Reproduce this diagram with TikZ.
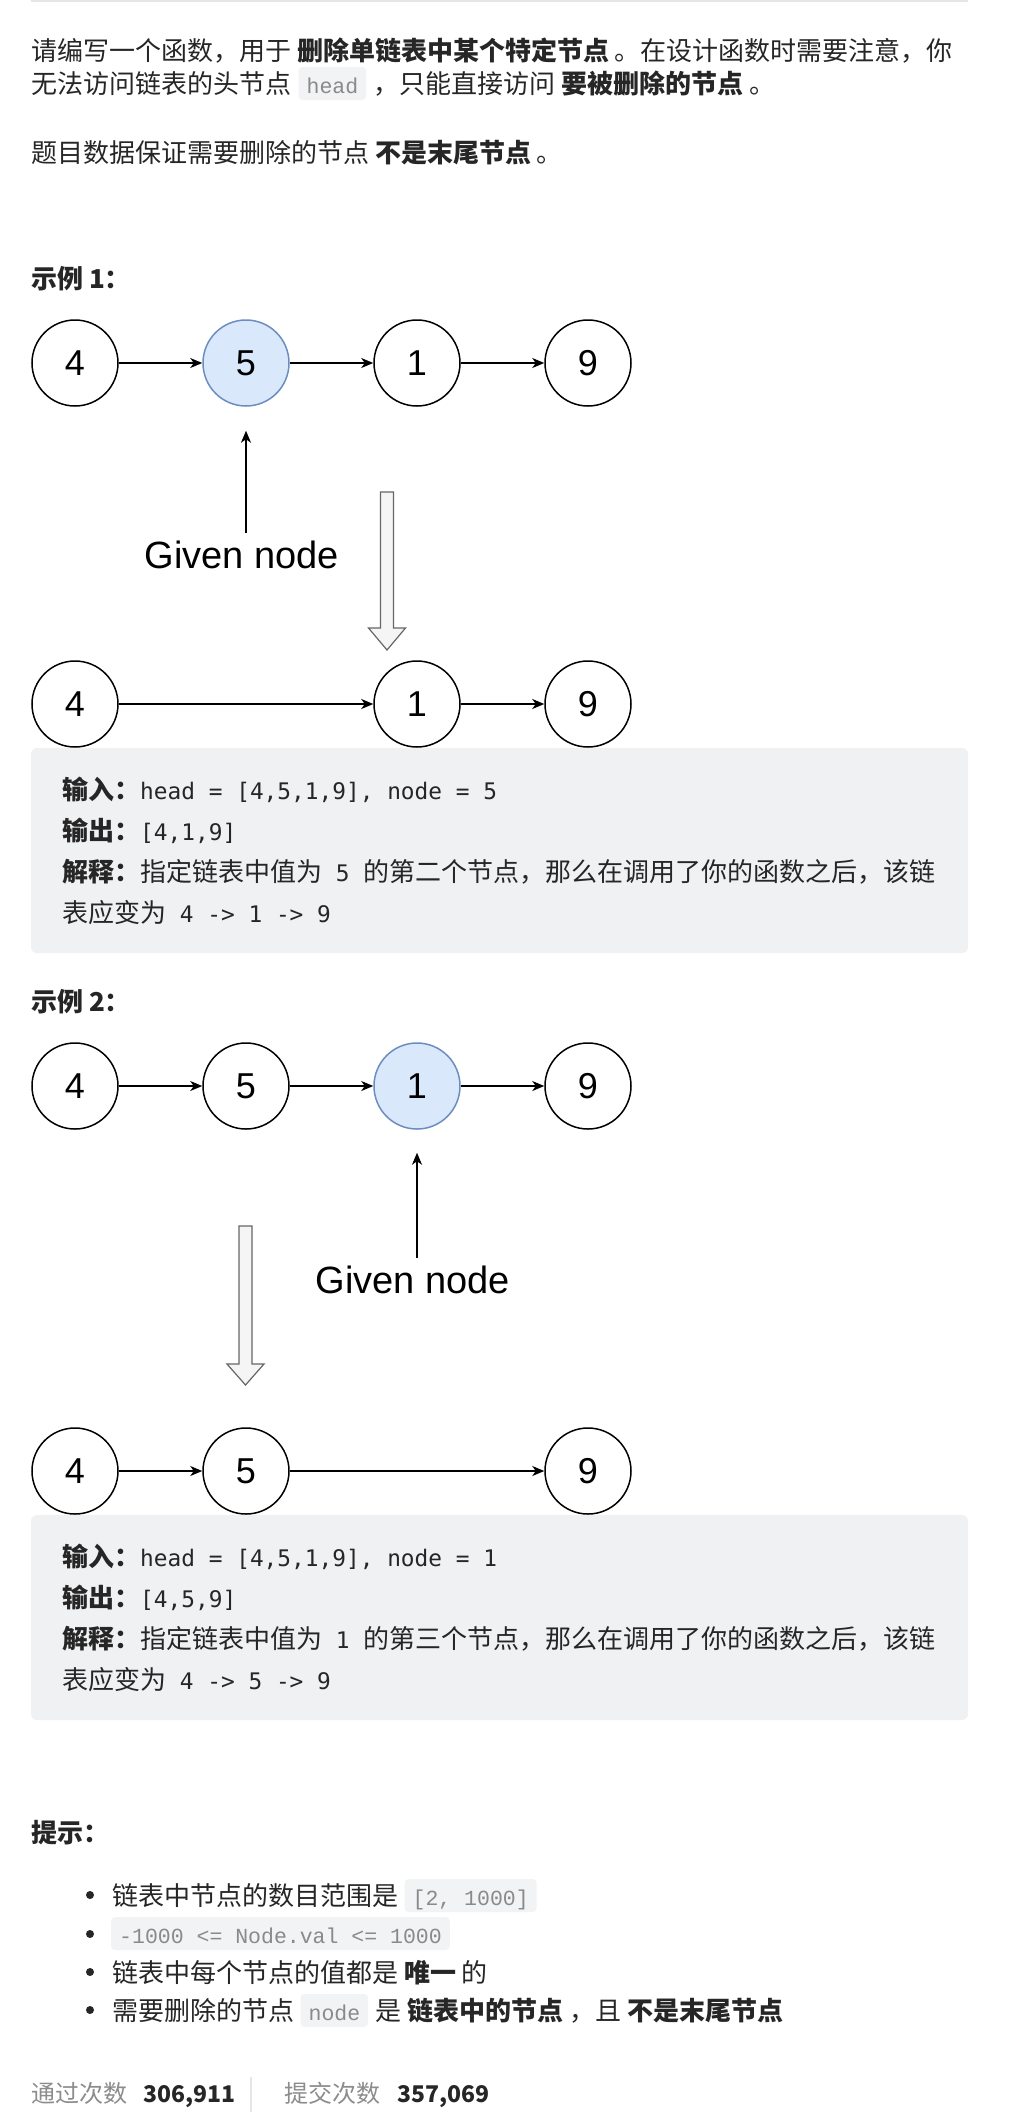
\documentclass[tikz,border=0pt]{standalone}
\usepackage{fontspec}
\setmainfont{Noto Sans CJK SC}
\newfontfamily\arialf{Liberation Sans}
\newfontfamily\monof{DejaVu Sans Mono}
\newfontfamily\codef{Liberation Mono}
\usetikzlibrary{arrows.meta}
\newcommand\fsz[1]{\fontsize{#1}{#1}\selectfont}
\newcommand\cd[1]{{\monof\fsz{22.8pt}#1}}
\definecolor{ink}{HTML}{262626}
\definecolor{selfill}{HTML}{DAE8FC}
\definecolor{selstroke}{HTML}{6C8EBF}
\definecolor{arrowfill}{HTML}{F5F5F5}
\definecolor{arrowstroke}{HTML}{666666}
\definecolor{boxbg}{HTML}{F0F1F3}
\definecolor{codebg}{HTML}{F2F3F5}
\definecolor{codegray}{HTML}{8A8A8A}
\definecolor{footgray}{HTML}{8C8C8C}
\definecolor{rulegray}{HTML}{E6E6E6}
\tikzset{
  txt/.style={anchor=base west, inner sep=0pt, text=ink, font=\fsz{26pt}},
  boxtxt/.style={txt},
  codebox/.style={anchor=base west, inner xsep=8pt, inner ysep=7pt, text height=19pt, text depth=0pt,
    fill=codebg, rounded corners=4pt, text=codegray, font=\codef\fsz{21.5pt}},
  listnode/.style={circle, draw=black, line width=1.5pt, minimum size=86pt, inner sep=0pt,
    font=\arialf\fsz{36pt}, text=black},
  sel/.style={listnode, fill=selfill, draw=selstroke},
  conn/.style={line width=1.3pt, -{Stealth[length=12pt,width=10pt,inset=3.5pt]}},
  gnlabel/.style={font=\arialf\fsz{38pt}, inner xsep=0pt, inner ysep=8pt, text=black},
  hollow/.style={fill=arrowfill, draw=arrowstroke, line width=1.2pt, line join=miter},
  exbox/.style={fill=boxbg, rounded corners=6pt},
  bulletdot/.style={circle, fill=ink, minimum size=8pt, inner sep=0pt},
  footlab/.style={txt, font=\fsz{24pt}, text=footgray},
  footnum/.style={txt, font=\bfseries\fsz{23pt}, text=ink},
}
\begin{document}
\begin{tikzpicture}[x=1pt, y=-1pt]
\useasboundingbox (0,0) rectangle (1010,2112);
\fill[white] (0,0) rectangle (1010,2112);
\draw[rulegray, line width=1.5pt] (31,0.75) -- (968,0.75);

% intro
\node[txt] (l1) at (31,60) {请编写一个函数，用于 \textbf{删除单链表中某个特定节点} 。在设计函数时需要注意，你};
\node[txt] (l2a) at (31,93) {无法访问链表的头节点};
\node[codebox] (l2b) at ([xshift=7pt]l2a.base east) {head};
\node[txt] (l2c) at ([xshift=7pt]l2b.base east) {，只能直接访问 \textbf{要被删除的节点} 。};
\node[txt] (l3) at (31,162) {题目数据保证需要删除的节点 \textbf{不是末尾节点} 。};

% example 1
\node[txt, font=\bfseries\fsz{26pt}] (ex1) at (31,288) {示例 1：};
\node[listnode] (c11) at (75,363) {4};
\node[sel] (c12) at (246,363) {5};
\node[listnode] (c13) at (417,363) {1};
\node[listnode] (c14) at (588,363) {9};
\draw[conn] (c11) -- (c12);
\draw[conn] (c12) -- (c13);
\draw[conn] (c13) -- (c14);
\node[gnlabel] (g1) at (242,555) {Given node};
\draw[conn] (c12 |- g1.north) -- ([yshift=-24pt]c12.south);
\draw[hollow] (380.5,492) -- (393.5,492) -- (393.5,628) -- (405.5,628) -- (387,650) -- (368.5,628) -- (380.5,628) -- cycle;
\node[listnode] (c21) at (75,704) {4};
\node[listnode] (c23) at (417,704) {1};
\node[listnode] (c24) at (588,704) {9};
\draw[conn] (c21) -- (c23);
\draw[conn] (c23) -- (c24);

\fill[exbox] (31,748) rectangle (968,953);
\node[boxtxt] (e1a) at (62,799) {\textbf{输入：}\cd{head = [4,5,1,9], node = 5}};
\node[boxtxt] (e1b) at (62,840) {\textbf{输出：}\cd{[4,1,9]}};
\node[boxtxt] (e1c) at (62,881) {\textbf{解释：}指定链表中值为\cd{ 5 }的第二个节点，那么在调用了你的函数之后，该链};
\node[boxtxt] (e1d) at (62,922) {表应变为\cd{ 4 -> 1 -> 9}};

% example 2
\node[txt, font=\bfseries\fsz{26pt}] (ex2) at (31,1011) {示例 2：};
\node[listnode] (c31) at (75,1086) {4};
\node[listnode] (c32) at (246,1086) {5};
\node[sel] (c33) at (417,1086) {1};
\node[listnode] (c34) at (588,1086) {9};
\draw[conn] (c31) -- (c32);
\draw[conn] (c32) -- (c33);
\draw[conn] (c33) -- (c34);
\node[gnlabel] (g2) at (413,1280) {Given node};
\draw[conn] (c33 |- g2.north) -- ([yshift=-23pt]c33.south);
\draw[hollow] (239,1226) -- (252,1226) -- (252,1364) -- (264,1364) -- (245.5,1385) -- (227,1364) -- (239,1364) -- cycle;
\node[listnode] (c41) at (75,1471) {4};
\node[listnode] (c42) at (246,1471) {5};
\node[listnode] (c44) at (588,1471) {9};
\draw[conn] (c41) -- (c42);
\draw[conn] (c42) -- (c44);

\fill[exbox] (31,1515) rectangle (968,1720);
\node[boxtxt] (e2a) at (62,1566) {\textbf{输入：}\cd{head = [4,5,1,9], node = 1}};
\node[boxtxt] (e2b) at (62,1607) {\textbf{输出：}\cd{[4,5,9]}};
\node[boxtxt] (e2c) at (62,1648) {\textbf{解释：}指定链表中值为\cd{ 1 }的第三个节点，那么在调用了你的函数之后，该链};
\node[boxtxt] (e2d) at (62,1689) {表应变为\cd{ 4 -> 5 -> 9}};

% hints
\node[txt, font=\bfseries\fsz{26pt}] (hint) at (31,1842) {提示：};
\node[bulletdot] (b1) at (90,1895) {};
\node[bulletdot] (b2) at (90,1934) {};
\node[bulletdot] (b3) at (90,1972) {};
\node[bulletdot] (b4) at (90,2010) {};
\node[txt] (h1a) at (112,1905) {链表中节点的数目范围是};
\node[codebox] (h1b) at ([xshift=6pt]h1a.base east) {[2, 1000]};
\node[codebox] (h2) at (111,1943) {-1000 <= Node.val <= 1000};
\node[txt] (h3) at (112,1982) {链表中每个节点的值都是 \textbf{唯一} 的};
\node[txt] (h4a) at (112,2020) {需要删除的节点};
\node[codebox] (h4b) at ([xshift=6pt]h4a.base east) {node};
\node[txt] (h4c) at ([xshift=7pt]h4b.base east) {是 \textbf{链表中的节点} ，且 \textbf{不是末尾节点}};

% footer
\node[footlab] (f1) at (31,2102) {通过次数};
\node[footnum] (f2) at (143,2102) {306,911};
\draw[rulegray, line width=1.5pt] (251,2077) -- (251,2112);
\node[footlab] (f3) at (284,2102) {提交次数};
\node[footnum] (f4) at (397,2102) {357,069};
\end{tikzpicture}
\end{document}
